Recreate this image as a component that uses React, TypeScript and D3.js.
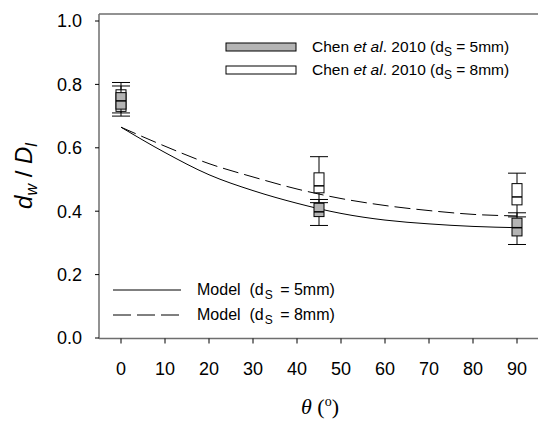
import React from "react";
import * as d3 from "d3";

const xTicks = [0, 10, 20, 30, 40, 50, 60, 70, 80, 90];
const yTicks = [0, 0.2, 0.4, 0.6, 0.8, 1.0];

const modelAngles = [0, 10, 20, 30, 40, 50, 60, 70, 80, 90];
const model5 = [0.665, 0.585, 0.515, 0.465, 0.425, 0.393, 0.372, 0.36, 0.352, 0.348];
const model8 = [0.665, 0.605, 0.55, 0.508, 0.47, 0.44, 0.418, 0.402, 0.39, 0.385];

const boxAngles = [0, 45, 90];
// d_s = 5mm (grey)
const min5 = [0.7, 0.355, 0.295];
const q1_5 = [0.722, 0.383, 0.322];
const med5 = [0.748, 0.398, 0.348];
const q3_5 = [0.774, 0.425, 0.378];
const max5 = [0.795, 0.437, 0.395];
// d_s = 8mm (white)
const min8 = [0.71, 0.427, 0.382];
const q1_8 = [0.715, 0.458, 0.42];
const med8 = [0.755, 0.48, 0.445];
const q3_8 = [0.783, 0.521, 0.487];
const max8 = [0.806, 0.572, 0.52];

const W = 538;
const H = 422;
const left = 99;
const bottomY = 338.5;
const topY = 14;

export default function App() {
  const x = d3.scaleLinear().domain([0, 90]).range([121, 517]);
  const y = d3.scaleLinear().domain([0, 1]).range([338, 21]);

  const line = d3
    .line<number>()
    .x((_, i) => x(modelAngles[i]))
    .y((d) => y(d))
    .curve(d3.curveMonotoneX);

  const boxW = 10;
  const capW = 18;

  const renderBoxes = (
    mins: number[],
    q1s: number[],
    meds: number[],
    q3s: number[],
    maxs: number[],
    fill: string,
    key: string
  ) =>
    boxAngles.map((a, i) => {
      const cx = x(a);
      return (
        <g key={key + i} stroke="#000" strokeWidth={1}>
          <line x1={cx} x2={cx} y1={y(maxs[i])} y2={y(q3s[i])} />
          <line x1={cx} x2={cx} y1={y(q1s[i])} y2={y(mins[i])} />
          <line x1={cx - capW / 2} x2={cx + capW / 2} y1={y(maxs[i])} y2={y(maxs[i])} />
          <line x1={cx - capW / 2} x2={cx + capW / 2} y1={y(mins[i])} y2={y(mins[i])} />
          <rect
            x={cx - boxW / 2}
            y={y(q3s[i])}
            width={boxW}
            height={y(q1s[i]) - y(q3s[i])}
            fill={fill}
          />
          <line x1={cx - boxW / 2} x2={cx + boxW / 2} y1={y(meds[i])} y2={y(meds[i])} strokeWidth={1.5} />
        </g>
      );
    });

  const font = "Arial, 'Liberation Sans', sans-serif";
  const axisColor = "#6e6e6e";

  return (
    <svg width={W} height={H} style={{ position: "absolute", left: 0, top: 0, background: "#fff" }}>
      {/* frame */}
      <line x1={left} x2={W} y1={topY} y2={topY} stroke={axisColor} strokeWidth={1.5} />
      <line x1={left} x2={left} y1={topY} y2={bottomY} stroke={axisColor} strokeWidth={1.5} />
      <line x1={left} x2={W} y1={bottomY} y2={bottomY} stroke={axisColor} strokeWidth={1.5} />

      {/* y ticks */}
      {yTicks.map((t) => (
        <g key={"y" + t}>
          <line x1={left - 4} x2={left} y1={y(t)} y2={y(t)} stroke="#000" strokeWidth={1} />
          <text
            x={82}
            y={y(t)}
            dy="0.36em"
            textAnchor="end"
            fontFamily={font}
            fontSize={18}
            fill="#000"
          >
            {t.toFixed(1)}
          </text>
        </g>
      ))}

      {/* x ticks */}
      {xTicks.map((t) => (
        <g key={"x" + t}>
          <line x1={x(t)} x2={x(t)} y1={bottomY} y2={bottomY + 5} stroke="#000" strokeWidth={1} />
          <text x={x(t)} y={375} textAnchor="middle" fontFamily={font} fontSize={18} fill="#000">
            {t}
          </text>
        </g>
      ))}

      {/* axis titles */}
      <text x={320} y={414} textAnchor="middle" fontFamily="'Times New Roman', 'Liberation Serif', serif" fontSize={22} fill="#000">
        <tspan fontStyle="italic">θ</tspan>
        <tspan> (</tspan>
        <tspan fontSize={14} dy={-8}>o</tspan>
        <tspan dy={8}>)</tspan>
      </text>
      <text
        transform="translate(32,176) rotate(-90)"
        textAnchor="middle"
        fontFamily={font}
        fontSize={24}
        fill="#000"
        style={{ whiteSpace: "pre" }}
      >
        <tspan fontStyle="italic">d</tspan>
        <tspan fontStyle="italic" fontSize={16} dy={5}>w</tspan>
        <tspan dy={-5}>{" / "}</tspan>
        <tspan fontStyle="italic">D</tspan>
        <tspan fontStyle="italic" fontSize={16} dy={5}>l</tspan>
      </text>

      {/* model curves */}
      <path d={line(model5) || ""} fill="none" stroke="#000" strokeWidth={1} />
      <path d={line(model8) || ""} fill="none" stroke="#000" strokeWidth={1} strokeDasharray="16,6" />

      {/* boxes */}
      {renderBoxes(min8, q1_8, med8, q3_8, max8, "#fff", "b8")}
      {renderBoxes(min5, q1_5, med5, q3_5, max5, "#b4b4b4", "b5")}

      {/* top legend */}
      <rect x={226} y={43} width={70} height={8} fill="#b4b4b4" stroke="#000" strokeWidth={1} />
      <rect x={226} y={66} width={70} height={8} fill="#fff" stroke="#000" strokeWidth={1} />
      {[0, 1].map((i) => (
        <text key={"lt" + i} x={312} y={52 + i * 23} fontFamily={font} fontSize={15.5} fill="#000" style={{ whiteSpace: "pre" }}>
          Chen <tspan fontStyle="italic">et al</tspan>. 2010 (d
          <tspan fontSize={12} dy={4}>S</tspan>
          <tspan dy={-4}>{" = " + (i === 0 ? "5" : "8") + "mm)"}</tspan>
        </text>
      ))}

      {/* bottom legend */}
      <line x1={113} x2={181} y1={290} y2={290} stroke="#000" strokeWidth={1} />
      <line x1={113} x2={181} y1={315} y2={315} stroke="#000" strokeWidth={1} strokeDasharray="18,6" />
      {[0, 1].map((i) => (
        <text key={"lm" + i} x={197} y={295 + i * 25} fontFamily={font} fontSize={16} fill="#000" style={{ whiteSpace: "pre" }}>
          {"Model  (d"}
          <tspan fontSize={12} dy={4} dx={1}>S</tspan>
          <tspan dy={-4} dx={3}>{" = " + (i === 0 ? "5" : "8") + "mm)"}</tspan>
        </text>
      ))}
    </svg>
  );
}
